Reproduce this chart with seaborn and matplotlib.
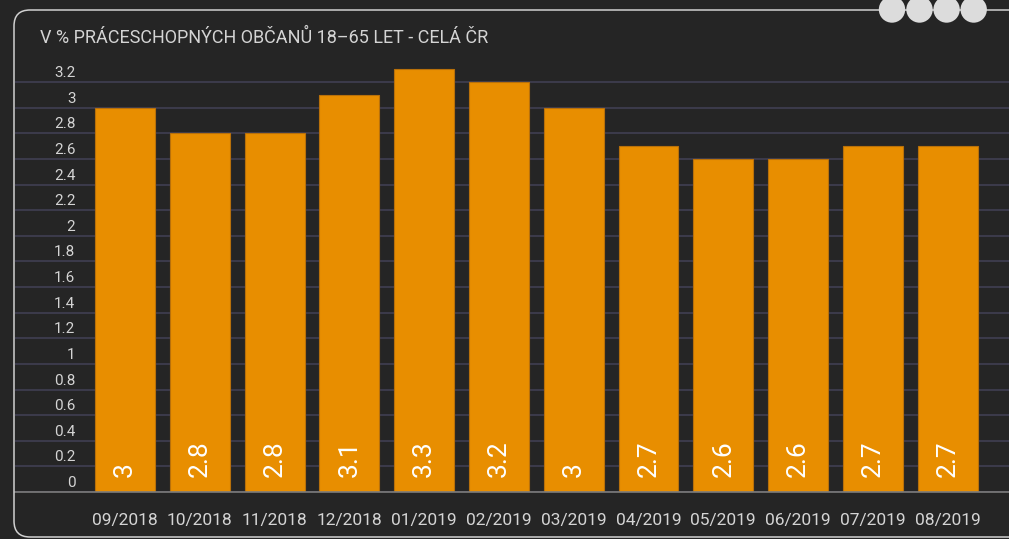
import matplotlib
matplotlib.use("Agg")
import matplotlib.pyplot as plt
import matplotlib.patches as mpatches
from matplotlib.transforms import ScaledTranslation
import seaborn as sns

months = ["09/2018", "10/2018", "11/2018", "12/2018", "01/2019", "02/2019",
          "03/2019", "04/2019", "05/2019", "06/2019", "07/2019", "08/2019"]
values = [3.0, 2.8, 2.8, 3.1, 3.3, 3.2, 3.0, 2.7, 2.6, 2.6, 2.7, 2.7]
yticks = [0, 0.2, 0.4, 0.6, 0.8, 1, 1.2, 1.4, 1.6, 1.8, 2, 2.2, 2.4, 2.6, 2.8, 3, 3.2]
title = "V % PRÁCESCHOPNÝCH OBČANŮ 18–65 LET - CELÁ ČR"

BG = "#252525"
BAR = "#e88e00"
GRID = "#3b3a4a"
TXT = "#d4d4d4"

sns.set_style("dark")
plt.rcParams["font.family"] = ["Roboto", "DejaVu Sans"]

fig = plt.figure(figsize=(10.09, 5.39), dpi=100, facecolor=BG)
W, H = 1009, 539
ax = fig.add_axes([15 / W, 47 / H, (W - 15) / W, 429 / H])
ax.set_facecolor(BG)

sns.barplot(x=months, y=values, color=BAR, width=0.8, saturation=1,
            edgecolor="#b8700a", linewidth=0.8, ax=ax, zorder=3)

ax.set_xlim(-1.471, 11.82)
ax.set_ylim(0, 3.35)
ax.set_yticks(yticks)
ax.set_yticklabels([f"{t:g}" for t in yticks])
ax.grid(axis="y", color=GRID, linewidth=1.5, zorder=0)
ax.grid(axis="x", visible=False)
for s in ["top", "right", "left"]:
    ax.spines[s].set_visible(False)
ax.spines["bottom"].set_color("#7c7c7c")
ax.spines["bottom"].set_linewidth(1.2)
ax.spines["bottom"].set_zorder(4)

ax.tick_params(axis="y", length=0, pad=-43.5, labelsize=11, labelcolor=TXT)
ax.tick_params(axis="x", length=0, pad=15, labelsize=12.5, labelcolor=TXT)
up = ScaledTranslation(0, 10.5 / 100, fig.dpi_scale_trans)
for lab in ax.get_yticklabels():
    lab.set_transform(lab.get_transform() + up)
ax.set_xlabel("")
ax.set_ylabel("")

lift = ScaledTranslation(0, 15 / 100, fig.dpi_scale_trans)
for i, v in enumerate(values):
    ax.text(i, 0, f"{v:g}", rotation=90, ha="center", va="bottom",
            color="white", fontsize=19, transform=ax.transData + lift, zorder=5)

fig.text(40 / W, 1 - 38 / H, title, color=TXT, fontsize=13, va="center", ha="left")

# panel frame and decorative dots
frame = mpatches.FancyBboxPatch((0.14, 0.02), 10.5, 5.27,
                                boxstyle="round,pad=0,rounding_size=0.16",
                                transform=fig.dpi_scale_trans, fill=False,
                                edgecolor="#d0d0d0", linewidth=1.1)
fig.patches.append(frame)
for cx in [8.92, 9.195, 9.466, 9.737]:
    fig.patches.append(mpatches.Circle((cx, 5.295), 0.132, transform=fig.dpi_scale_trans,
                                       facecolor="#dcdcdc", edgecolor="none"))

fig.savefig("out.png", dpi=100, facecolor=BG)
